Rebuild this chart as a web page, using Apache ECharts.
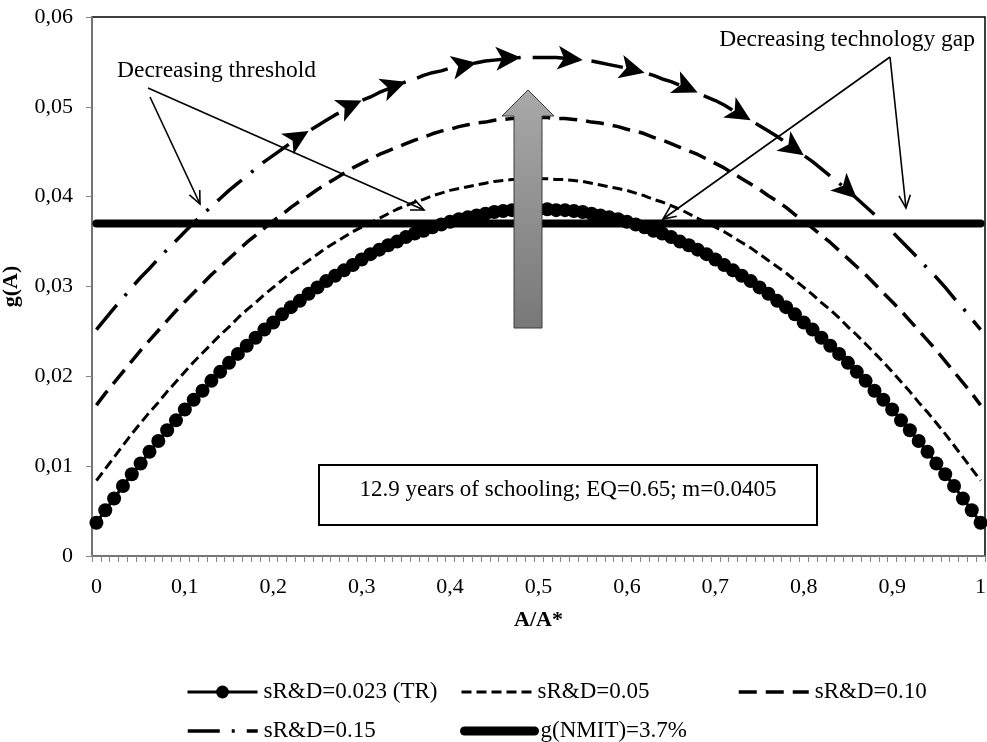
<!DOCTYPE html>
<html><head><meta charset="utf-8">
<script src="https://cdn.jsdelivr.net/npm/echarts@6/dist/echarts.min.js"></script>
<style>html,body{margin:0;padding:0;background:#fff}#c{width:987px;height:742px}</style>
</head><body><div id="c"></div>
<script>
const xValues = [0,0.01,0.02,0.03,0.04,0.05,0.06,0.07,0.08,0.09,
0.1,0.11,0.12,0.13,0.14,0.15,0.16,0.17,0.18,0.19,
0.2,0.21,0.22,0.23,0.24,0.25,0.26,0.27,0.28,0.29,
0.3,0.31,0.32,0.33,0.34,0.35,0.36,0.37,0.38,0.39,
0.4,0.41,0.42,0.43,0.44,0.45,0.46,0.47,0.48,0.49,
0.5,0.51,0.52,0.53,0.54,0.55,0.56,0.57,0.58,0.59,
0.6,0.61,0.62,0.63,0.64,0.65,0.66,0.67,0.68,0.69,
0.7,0.71,0.72,0.73,0.74,0.75,0.76,0.77,0.78,0.79,
0.8,0.81,0.82,0.83,0.84,0.85,0.86,0.87,0.88,0.89,
0.9,0.91,0.92,0.93,0.94,0.95,0.96,0.97,0.98,0.99,1];

const seriesNames = ['sR&D=0.023 (TR)','sR&D=0.05','sR&D=0.10','sR&D=0.15','g(NMIT)=3.7%'];

const trValues = [0.0037,0.0051,0.0064,0.0078,0.0091,0.0103,0.0116,0.0128,0.0140,0.0151,
0.0163,0.0174,0.0184,0.0195,0.0205,0.0215,0.0225,0.0234,0.0243,0.0252,
0.0260,0.0269,0.0277,0.0284,0.0292,0.0299,0.0306,0.0312,0.0318,0.0324,
0.0330,0.0336,0.0341,0.0346,0.0350,0.0355,0.0359,0.0362,0.0366,0.0369,
0.0372,0.0375,0.0377,0.0379,0.0381,0.0383,0.0384,0.0385,0.0385,0.0386,
0.0386,
0.0386,0.0385,0.0385,0.0384,0.0383,0.0381,0.0379,0.0377,0.0375,0.0372,
0.0369,0.0366,0.0362,0.0359,0.0355,0.0350,0.0346,0.0341,0.0336,0.0330,
0.0324,0.0318,0.0312,0.0306,0.0299,0.0292,0.0284,0.0277,0.0269,0.0260,
0.0252,0.0243,0.0234,0.0225,0.0215,0.0205,0.0195,0.0184,0.0174,0.0163,
0.0151,0.0140,0.0128,0.0116,0.0103,0.0091,0.0078,0.0064,0.0051,0.0037];

const s005Values = [0.0084,0.0097,0.0110,0.0123,0.0136,0.0148,0.0160,0.0171,0.0183,0.0194,
0.0205,0.0216,0.0226,0.0236,0.0246,0.0255,0.0265,0.0274,0.0282,0.0291,
0.0299,0.0307,0.0315,0.0322,0.0329,0.0336,0.0343,0.0349,0.0355,0.0361,
0.0366,0.0371,0.0376,0.0381,0.0386,0.0390,0.0394,0.0397,0.0401,0.0404,
0.0407,0.0409,0.0411,0.0413,0.0415,0.0417,0.0418,0.0419,0.0419,0.0420,
0.0420,
0.0420,0.0419,0.0419,0.0418,0.0417,0.0415,0.0413,0.0411,0.0409,0.0407,
0.0404,0.0401,0.0397,0.0394,0.0390,0.0386,0.0381,0.0376,0.0371,0.0366,
0.0361,0.0355,0.0349,0.0343,0.0336,0.0329,0.0322,0.0315,0.0307,0.0299,
0.0291,0.0282,0.0274,0.0265,0.0255,0.0246,0.0236,0.0226,0.0216,0.0205,
0.0194,0.0183,0.0171,0.0160,0.0148,0.0136,0.0123,0.0110,0.0097,0.0084];

const s010Values = [0.0168,0.0181,0.0193,0.0205,0.0217,0.0229,0.0240,0.0251,0.0262,0.0273,
0.0283,0.0293,0.0303,0.0313,0.0322,0.0331,0.0340,0.0349,0.0357,0.0365,
0.0373,0.0380,0.0388,0.0395,0.0401,0.0408,0.0414,0.0420,0.0426,0.0432,
0.0437,0.0442,0.0447,0.0451,0.0455,0.0459,0.0463,0.0466,0.0470,0.0473,
0.0475,0.0478,0.0480,0.0482,0.0483,0.0485,0.0486,0.0487,0.0487,0.0488,
0.0488,
0.0488,0.0487,0.0487,0.0486,0.0485,0.0483,0.0482,0.0480,0.0478,0.0475,
0.0473,0.0470,0.0466,0.0463,0.0459,0.0455,0.0451,0.0447,0.0442,0.0437,
0.0432,0.0426,0.0420,0.0414,0.0408,0.0401,0.0395,0.0388,0.0380,0.0373,
0.0365,0.0357,0.0349,0.0340,0.0331,0.0322,0.0313,0.0303,0.0293,0.0283,
0.0273,0.0262,0.0251,0.0240,0.0229,0.0217,0.0205,0.0193,0.0181,0.0168];

const s015Values = [0.0252,0.0264,0.0276,0.0287,0.0299,0.0310,0.0320,0.0331,0.0341,0.0351,
0.0361,0.0371,0.0380,0.0389,0.0398,0.0407,0.0415,0.0423,0.0431,0.0439,
0.0446,0.0453,0.0460,0.0467,0.0473,0.0479,0.0485,0.0491,0.0496,0.0502,
0.0507,0.0511,0.0516,0.0520,0.0524,0.0528,0.0531,0.0535,0.0538,0.0540,
0.0543,0.0545,0.0547,0.0549,0.0551,0.0552,0.0553,0.0554,0.0555,0.0555,
0.0555,
0.0555,0.0555,0.0554,0.0553,0.0552,0.0551,0.0549,0.0547,0.0545,0.0543,
0.0540,0.0538,0.0535,0.0531,0.0528,0.0524,0.0520,0.0516,0.0511,0.0507,
0.0502,0.0496,0.0491,0.0485,0.0479,0.0473,0.0467,0.0460,0.0453,0.0446,
0.0439,0.0431,0.0423,0.0415,0.0407,0.0398,0.0389,0.0380,0.0371,0.0361,
0.0351,0.0341,0.0331,0.0320,0.0310,0.0299,0.0287,0.0276,0.0264,0.0252];

const nmitLevel = 0.037;
const arrowIndices = [24,30,35,43,48,55,62,68,74,80,86];

const boxText = '12.9 years of schooling; EQ=0.65; m=0.0405';
const noteThreshold = 'Decreasing threshold';
const noteGap = 'Decreasing technology gap';

const FONT = "'Liberation Serif','Times New Roman',serif";
const chart = echarts.init(document.getElementById('c'));

function leg(name, left, top, lineW, hideSymbol) {
  const l = { data: [name], left: left, top: top, orient: 'horizontal', padding: 0,
    itemWidth: 70, itemHeight: 16, itemGap: 0, selectedMode: false,
    lineStyle: { width: lineW },
    textStyle: { fontFamily: FONT, fontSize: 23, color: '#000', lineHeight: 24, padding: [0,0,0,1] } };
  if (hideSymbol) l.itemStyle = { opacity: 0 };
  return l;
}
function arrowLine(x1, y1, x2, y2) {
  const a = Math.atan2(y2 - y1, x2 - x1), L = 14, w = 0.42;
  return [
    { type: 'line', shape: { x1, y1, x2, y2 }, style: { stroke: '#000', lineWidth: 1.6 }, z: 50 },
    { type: 'polyline', shape: { points: [[x2 - L * Math.cos(a - w), y2 - L * Math.sin(a - w)], [x2, y2], [x2 - L * Math.cos(a + w), y2 - L * Math.sin(a + w)]] },
      style: { stroke: '#000', lineWidth: 1.6, fill: 'none' }, z: 50 }
  ];
}
function s015Data(rot) {
  return s015Values.map((v, i) => {
    const k = arrowIndices.indexOf(i);
    if (k < 0) return v;
    return { value: v, symbol: 'arrow', symbolSize: [18, 25], symbolRotate: rot ? rot[k] : -90 };
  });
}
const gray = '#868686';
const option = {
  animation: false,
  backgroundColor: '#fff',
  grid: { left: 92, right: 2, top: 17, bottom: 186, show: true, borderColor: '#000', borderWidth: 1.5,
    backgroundColor: 'transparent', containLabel: false, outerBoundsMode: 'none' },
  legend: [
    leg(seriesNames[0], 186, 680, 3, false), leg(seriesNames[1], 460, 680, 3, true), leg(seriesNames[2], 737, 680, 3.5, true),
    leg(seriesNames[3], 186, 719, 3.5, true), leg(seriesNames[4], 460, 719, 9, true)
  ],
  xAxis: {
    type: 'category', data: xValues, boundaryGap: true,
    name: 'A/A*', nameLocation: 'middle', nameGap: 53,
    nameTextStyle: { fontFamily: FONT, fontSize: 22, fontWeight: 'bold', color: '#000' },
    axisLine: { lineStyle: { color: gray, width: 1.5 } },
    axisTick: { show: true, interval: 0, length: 6, lineStyle: { color: gray, width: 1 } },
    axisLabel: { interval: 9, margin: 20, fontFamily: FONT, fontSize: 22, color: '#000',
      formatter: v => String(v).replace('.', ',') },
    splitLine: { show: false }
  },
  yAxis: {
    type: 'value', min: 0, max: 0.06, interval: 0.01,
    name: 'g(A)', nameLocation: 'middle', nameGap: 70,
    nameTextStyle: { fontFamily: FONT, fontSize: 22, fontWeight: 'bold', color: '#000' },
    axisLine: { show: true, lineStyle: { color: gray, width: 1.5 } },
    axisTick: { show: true, length: 6, lineStyle: { color: gray, width: 1 } },
    axisLabel: { margin: 19, fontFamily: FONT, fontSize: 22, color: '#000',
      formatter: v => v === 0 ? '0' : v.toFixed(2).replace('.', ',') },
    splitLine: { show: false }
  },
  series: [
    { name: seriesNames[0], type: 'line', data: trValues, symbol: 'circle', symbolSize: 14, showSymbol: true, showAllSymbol: true,
      itemStyle: { color: '#000' }, lineStyle: { color: '#000', width: 3 }, z: 2 },
    { name: seriesNames[1], type: 'line', data: s005Values, symbol: 'none', itemStyle: { color: '#000' },
      lineStyle: { color: '#000', width: 3, type: [10, 5] }, z: 3 },
    { name: seriesNames[2], type: 'line', data: s010Values, symbol: 'none', itemStyle: { color: '#000' },
      lineStyle: { color: '#000', width: 3.5, type: [18, 9] }, z: 4 },
    { name: seriesNames[3], type: 'line', data: s015Data(null), symbol: 'none', showAllSymbol: true, itemStyle: { color: '#000' },
      lineStyle: { color: '#000', width: 3.5, type: [32, 12, 3, 12] }, z: 5 },
    { name: seriesNames[4], type: 'line', data: [[0, nmitLevel], [xValues.length - 1, nmitLevel]], symbol: 'none', itemStyle: { color: '#000' },
      lineStyle: { color: '#000', width: 8, cap: 'round' }, z: 6 }
  ],
  graphic: [
    { type: 'rect', shape: { x: 319, y: 465, width: 498, height: 60 }, style: { fill: '#fff', stroke: '#000', lineWidth: 2 }, z: 40 },
    { type: 'text', x: 568, y: 490, style: { text: boxText, fontFamily: FONT, fontSize: 23, fill: '#000', align: 'center', verticalAlign: 'middle' }, z: 41 },
    { type: 'text', x: 117, y: 71, style: { text: noteThreshold, fontFamily: FONT, fontSize: 23.5, fill: '#000', align: 'left', verticalAlign: 'middle' }, z: 41 },
    { type: 'text', x: 975, y: 40, style: { text: noteGap, fontFamily: FONT, fontSize: 23.5, fill: '#000', align: 'right', verticalAlign: 'middle' }, z: 41 },
    ...arrowLine(150, 97, 200, 204),
    ...arrowLine(148, 88, 424, 210),
    ...arrowLine(890, 57, 663, 219),
    ...arrowLine(890, 57, 906, 208),
    { type: 'polygon', shape: { points: [[528, 90], [554, 116], [542, 116], [542, 328], [514, 328], [514, 116], [502, 116]] },
      style: { fill: new echarts.graphic.LinearGradient(0, 0, 0, 1, [{ offset: 0, color: '#a9a9a9' }, { offset: 1, color: '#787878' }]),
        stroke: '#3c3c3c', lineWidth: 1 }, z: 60 }
  ]
};
chart.setOption(option);
const rot = arrowIndices.map(i => {
  const p1 = chart.convertToPixel({ seriesIndex: 3 }, [i - 1, s015Values[i - 1]]);
  const p2 = chart.convertToPixel({ seriesIndex: 3 }, [i + 1, s015Values[i + 1]]);
  const phi = Math.atan2(-(p2[1] - p1[1]), p2[0] - p1[0]) * 180 / Math.PI;
  return phi - 90;
});
chart.setOption({ series: [{}, {}, {}, { data: s015Data(rot) }, {}] });
</script></body></html>
